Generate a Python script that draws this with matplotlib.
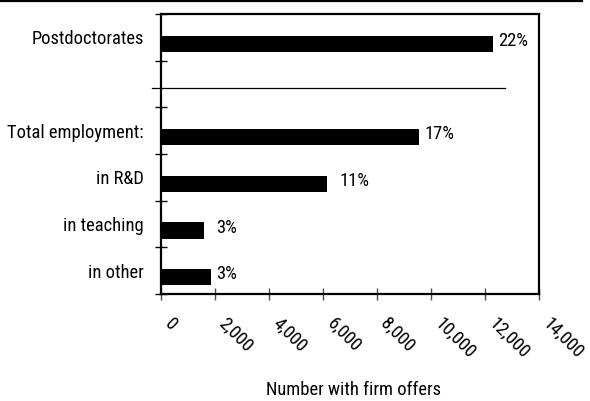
import numpy as np
import matplotlib
matplotlib.use("Agg")
import matplotlib.pyplot as plt
import matplotlib.transforms as mtransforms
from matplotlib.lines import Line2D

plt.rcParams['font.family'] = ['Roboto Condensed', 'Liberation Sans', 'DejaVu Sans']

categorias = ['Postdoctorates', '', 'Total employment:', 'in R&D', 'in teaching', 'in other']
valores = [12300, np.nan, 9550, 6150, 1600, 1860]
porcentajes = ['22%', '', '17%', '11%', '3%', '3%']
xticks = [0, 2000, 4000, 6000, 8000, 10000, 12000, 14000]
xticklabels = ['0', '2,000', '4,000', '6,000', '8,000', '10,000', '12,000', '14,000']

tam = 13.3

fig = plt.figure(figsize=(5.9, 4.01), dpi=100)
ax = fig.add_axes([0.2724, 0.267, 0.6407, 0.698])

pos = np.arange(len(categorias))
ax.barh(pos + 0.14, valores, height=0.35, color='k')

# etiquetas de porcentaje (desplazamiento a mano, como en el original)
desp = [4, 0, 4, 9, 9, 4]
for i in range(len(categorias)):
    if porcentajes[i]:
        ax.annotate(porcentajes[i], (valores[i], pos[i] + 0.08), xytext=(desp[i], 0),
                    textcoords='offset points', va='center', ha='left', fontsize=tam)

ax.set_ylim(len(categorias) - 0.5, -0.5)
ax.set_xlim(0, 14000)

ax.set_yticks(pos)
ax.set_yticklabels(categorias, fontsize=tam)
ax.set_yticks(np.arange(-0.5, len(categorias)), minor=True)
ax.tick_params(axis='y', which='major', length=0, pad=12)
ax.tick_params(axis='y', which='minor', direction='inout', length=9, width=1)

ax.set_xticks(xticks)
ax.set_xticklabels(xticklabels, rotation=-45, ha='left', va='center',
                   rotation_mode='anchor', fontsize=tam)
ax.tick_params(axis='x', direction='inout', length=9, width=1, pad=15, color='0.3')
corrimiento = mtransforms.ScaledTranslation(5 / 72, 0, fig.dpi_scale_trans)
for et in ax.get_xticklabels():
    et.set_transform(et.get_transform() + corrimiento)

ax.set_xlabel('Number with firm offers', fontsize=tam, va='center')
ax.xaxis.set_label_coords(0.51, -0.343)

for s in ax.spines.values():
    s.set_linewidth(1.6)

# linea separadora
ax.plot([-0.024, 0.911], [0.736, 0.736], transform=ax.transAxes, color='k',
        linewidth=0.9, clip_on=False)

# linea superior
fig.add_artist(Line2D([0, 0.986], [0.9965, 0.9965], color='k', linewidth=1.6))

plt.savefig('out.png', dpi=100)
